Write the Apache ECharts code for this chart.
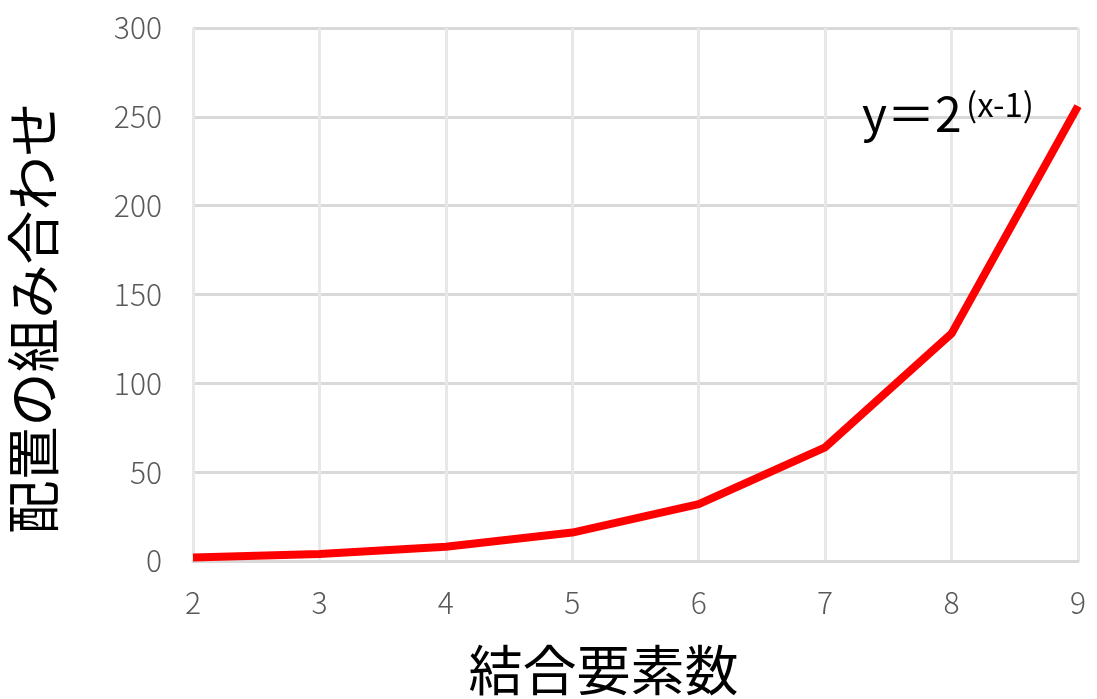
<!DOCTYPE html>
<html lang="ja">
<head>
<meta charset="utf-8" />
<title>配置の組み合わせ</title>
<script src="https://cdn.jsdelivr.net/npm/echarts@6/dist/echarts.min.js"></script>
<style>
  html, body { margin: 0; padding: 0; background: #fff; }
</style>
</head>
<body>
<div id="main" style="width: 1097px;height:699px;"></div>
<script>
    // 結合要素数 と 配置の組み合わせ
    var elementCounts = [2, 3, 4, 5, 6, 7, 8, 9];
    var combinations = [2, 4, 8, 16, 32, 64, 128, 256];
    var xAxisTitle = '結合要素数';
    var yAxisTitle = '配置の組み合わせ';
    var formulaMain = 'y＝2';
    var formulaExp = '(x-1)';

    var lineData = elementCounts.map(function (x, i) {
        return [x, combinations[i]];
    });

    var myChart = echarts.init(document.getElementById('main'));
    var font = '"Noto Sans CJK JP", "Noto Sans", sans-serif';

    var option = {
        animation: false,
        grid: {
            left: 193,
            right: 19,
            top: 28,
            bottom: 138,
            containLabel: false,
            outerBoundsMode: 'none'
        },
        xAxis: {
            type: 'value',
            min: 2,
            max: 9,
            interval: 1,
            name: xAxisTitle,
            nameLocation: 'middle',
            nameGap: 82,
            nameTextStyle: {
                fontFamily: font,
                fontSize: 54,
                color: '#000',
                padding: [0, 64, 0, 0]
            },
            axisLine: { show: true, lineStyle: { color: '#d9d9d9', width: 3 } },
            axisTick: { show: false },
            axisLabel: {
                margin: 27,
                fontFamily: font,
                fontWeight: 300,
                fontSize: 30,
                color: '#595959'
            },
            splitLine: { show: true, lineStyle: { color: '#e8e8e8', width: 3 } }
        },
        yAxis: {
            type: 'value',
            min: 0,
            max: 300,
            interval: 50,
            name: yAxisTitle,
            nameLocation: 'middle',
            nameGap: 133,
            nameRotate: 90,
            nameTextStyle: {
                fontFamily: font,
                fontSize: 54,
                color: '#000',
                padding: [0, 48, 0, 0]
            },
            axisLine: { show: false },
            axisTick: { show: false },
            axisLabel: {
                margin: 31,
                fontFamily: font,
                fontWeight: 300,
                fontSize: 30,
                color: '#595959'
            },
            splitLine: { show: true, lineStyle: { color: '#d9d9d9', width: 3 } }
        },
        graphic: [{
            type: 'text',
            z: 100,
            style: {
                x: 862,
                y: 114,
                text: formulaMain,
                fontFamily: font,
                fontSize: 48,
                fill: '#000',
                textAlign: 'left',
                textVerticalAlign: 'middle'
            }
        }, {
            type: 'text',
            z: 100,
            style: {
                x: 966,
                y: 104,
                text: formulaExp,
                fontFamily: font,
                fontSize: 33,
                fill: '#000',
                textAlign: 'left',
                textVerticalAlign: 'middle'
            }
        }],
        series: [{
            name: yAxisTitle,
            type: 'line',
            data: lineData,
            showSymbol: false,
            symbol: 'none',
            lineStyle: { color: '#ff0000', width: 8 },
            itemStyle: { color: '#ff0000' }
        }]
    };

    myChart.setOption(option);
</script>
</body>
</html>
